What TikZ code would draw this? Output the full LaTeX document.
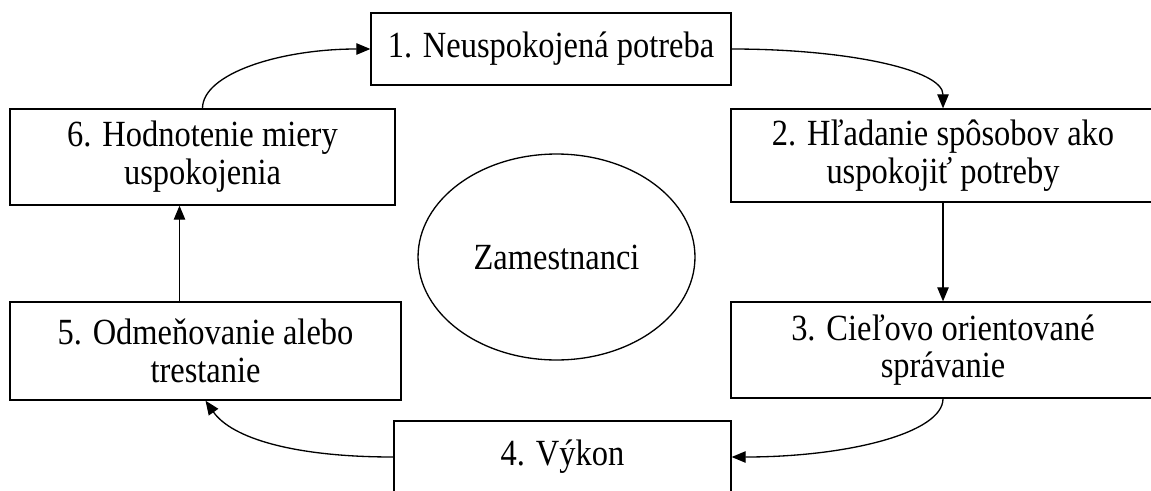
\documentclass[tikz,border=0pt]{standalone}
\usepackage{fontspec}
\setmainfont{Liberation Serif}[FakeStretch=0.88]
\usetikzlibrary{arrows.meta,shapes.geometric}

\begin{document}
\begin{tikzpicture}[x=0.02cm, y=-0.02cm,
  box/.style={draw, rectangle, line width=0.75pt, align=center, inner sep=0pt, font=\fontsize{21}{21.5}\selectfont},
  arr/.style={-{Triangle[length=8pt,width=6.5pt]}, line width=0.75pt}]
\useasboundingbox (0,0) rectangle (1151,490);
\node[box, minimum width=7.2cm, minimum height=1.44cm] (need) at (551,49) {1. Neuspokojená potreba};
\node[box, minimum width=8.48cm, minimum height=1.86cm] (search) at (943,155.5) {2. Hľadanie spôsobov ako\\uspokojiť potreby};
\node[box, minimum width=8.48cm, minimum height=1.92cm] (goal) at (943,350) {3. Cieľovo orientované\\správanie};
\node[box, minimum width=6.74cm, minimum height=1.44cm] (perf) at (562.5,457) {4. Výkon};
\node[box, minimum width=7.82cm, minimum height=1.96cm] (reward) at (205.5,351) {5. Odmeňovanie alebo\\trestanie};
\node[box, minimum width=7.7cm, minimum height=1.92cm] (eval) at (202.5,157) {6. Hodnotenie miery\\uspokojenia};
\node[box, ellipse, minimum width=5.54cm, minimum height=4.12cm] (emp) at (556.5,257) {Zamestnanci};
\draw[arr] (eval.north) to[out=90, in=180, out looseness=0.5, in looseness=1.3] (need.west);
\draw[arr] (need.east) to[out=0, in=90, out looseness=1.35, in looseness=0.45] (search.north);
\draw[arr] (search) -- (goal);
\draw[arr] (goal.south) to[out=-90, in=0, out looseness=0.4, in looseness=1.35] (perf.east);
\draw[arr] (perf.west) to[out=180, in=-55, out looseness=1.3, in looseness=0.6] (reward.south);
\draw[arr] ([xshift=-0.52cm]reward.north) -- ([xshift=-0.52cm]reward.north |- eval.south);
\end{tikzpicture}
\end{document}
